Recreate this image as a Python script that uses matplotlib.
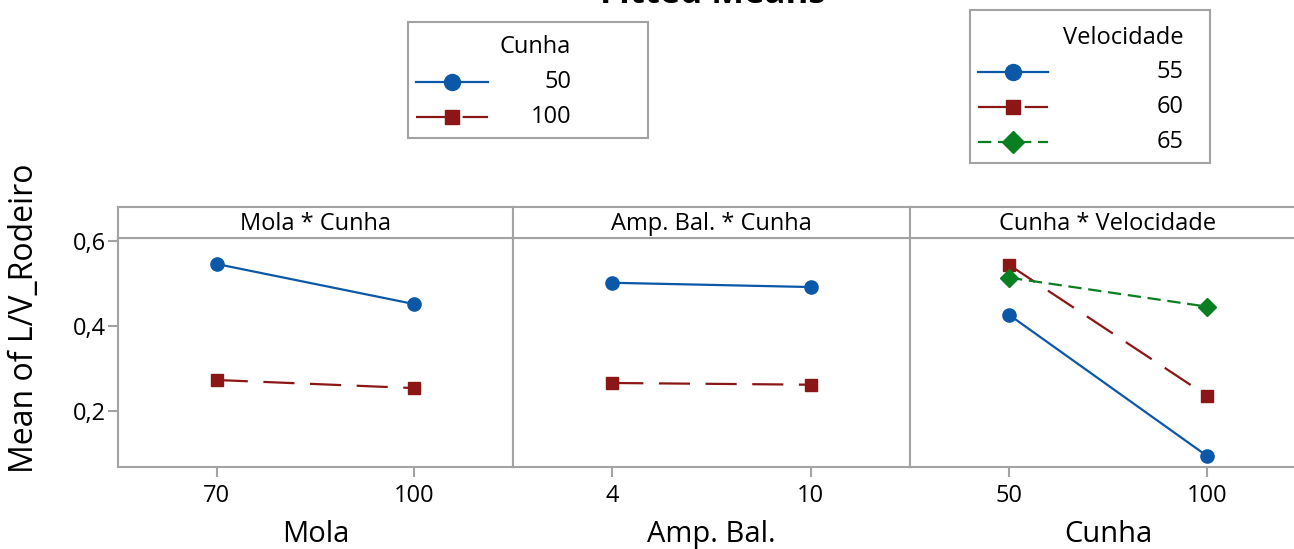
import matplotlib
matplotlib.use("Agg")
import matplotlib.pyplot as plt
from matplotlib.lines import Line2D
from matplotlib.patches import Rectangle

plt.rcParams['font.family'] = ['Open Sans', 'DejaVu Sans']

# dados (médias ajustadas)
mola_levels = ['70', '100']
amp_levels = ['4', '10']
cunha_levels = ['50', '100']
velocidade_levels = ['55', '60', '65']

mola_cunha50 = [0.545, 0.451]
mola_cunha100 = [0.273, 0.254]
amp_cunha50 = [0.501, 0.491]
amp_cunha100 = [0.266, 0.262]
cunha_vel55 = [0.426, 0.095]
cunha_vel60 = [0.543, 0.236]
cunha_vel65 = [0.513, 0.445]

panel_titles = ['Mola * Cunha', 'Amp. Bal. * Cunha', 'Cunha * Velocidade']
x_titles = ['Mola', 'Amp. Bal.', 'Cunha']
y_ticks = [0.2, 0.4, 0.6]

BLUE = '#0b57a8'
RED = '#8c1515'
GREEN = '#0a7f22'
GRAY = '#a3a3a3'

W, H = 1294, 549
fig = plt.figure(figsize=(W / 100, H / 100), dpi=100)


def px(x0, y0, x1, y1):
    # caixa em pixels -> fração da figura
    return [x0 / W, 1 - y1 / H, (x1 - x0) / W, (y1 - y0) / H]


styles = {
    'blue': dict(color=BLUE, marker='o', ms=9.5, lw=1.6, ls='-'),
    'red': dict(color=RED, marker='s', ms=8.5, lw=1.6, ls=(0, (14, 7))),
    'green': dict(color=GREEN, marker='D', ms=9, lw=1.6, ls=(0, (6, 3))),
}

panels = [
    (mola_levels, [(mola_cunha50, 'blue'), (mola_cunha100, 'red')]),
    (amp_levels, [(amp_cunha50, 'blue'), (amp_cunha100, 'red')]),
    (cunha_levels, [(cunha_vel55, 'blue'), (cunha_vel60, 'red'), (cunha_vel65, 'green')]),
]
xedges = [(118, 513), (513, 910), (910, 1306)]

for i, (levels, series) in enumerate(panels):
    x0, x1 = xedges[i]
    ax = fig.add_axes(px(x0, 238, x1, 467))
    xs = list(range(len(levels)))
    for vals, key in series:
        ax.plot(xs, vals, **styles[key])
    ax.set_xlim(-0.5, len(levels) - 0.5)
    ax.set_ylim(0.069, 0.606)
    ax.set_xticks(xs)
    ax.set_xticklabels(levels, fontsize=17)
    ax.set_yticks(y_ticks)
    if i == 0:
        ax.set_yticklabels([f'{v:.1f}'.replace('.', ',') for v in y_ticks], fontsize=17)
        ax.tick_params(axis='y', length=7, width=1.5, color=GRAY, pad=2)
    else:
        ax.tick_params(axis='y', left=False, labelleft=False)
    ax.tick_params(axis='x', length=7, width=1.5, color=GRAY, pad=5)
    for s in ax.spines.values():
        s.set_color(GRAY)
        s.set_linewidth(1.5)
    ax.set_xlabel(x_titles[i], fontsize=21, labelpad=9)

    strip = fig.add_axes(px(x0, 207, x1, 238))
    strip.set_xticks([])
    strip.set_yticks([])
    for s in strip.spines.values():
        s.set_color(GRAY)
        s.set_linewidth(1.5)
    strip.text(0.5, 0.45, panel_titles[i], ha='center', va='center', fontsize=17,
               transform=strip.transAxes)

fig.text(25 / W, 1 - 318 / H, 'Mean of L/V_Rodeiro', rotation=90, ha='center',
         va='center', fontsize=23)

# título cortado no topo, como no original
fig.text(713 / W, 1 - 3 / H, 'Fitted Means', ha='center', va='baseline',
         fontsize=25, fontweight='bold')


def draw_legend(box, title, title_y, labels, keys, ys, line_x, label_x):
    bx0, by0, bx1, by1 = box
    fig.patches.append(Rectangle((bx0 / W, 1 - by1 / H), (bx1 - bx0) / W, (by1 - by0) / H,
                                 transform=fig.transFigure, fill=False,
                                 edgecolor=GRAY, lw=1.5))
    fig.text(label_x / W, 1 - title_y / H, title, ha='right', va='center', fontsize=17)
    for lab, key, y in zip(labels, keys, ys):
        st = styles[key]
        lx0, lx1 = line_x
        fig.lines.append(Line2D([lx0 / W, lx1 / W], [1 - y / H, 1 - y / H],
                                transform=fig.transFigure, color=st['color'],
                                lw=st['lw'], ls=st['ls']))
        fig.lines.append(Line2D([(lx0 + lx1) / 2 / W], [1 - y / H],
                                transform=fig.transFigure, color=st['color'],
                                marker=st['marker'], ms=st['ms'] + 2, ls='none'))
        fig.text(label_x / W, 1 - y / H, lab, ha='right', va='center', fontsize=17)


draw_legend((408, 22, 648, 138), 'Cunha', 47, cunha_levels, ['blue', 'red'],
            [82, 117], (416, 488), 571)
draw_legend((970, 10, 1210, 163), 'Velocidade', 38, velocidade_levels,
            ['blue', 'red', 'green'], [72, 107, 142], (978, 1048), 1184)

fig.savefig('out.png', dpi=100)
